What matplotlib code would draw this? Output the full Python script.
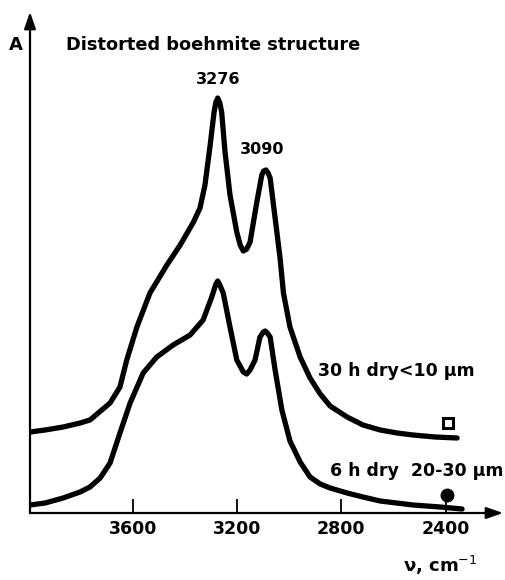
import matplotlib
matplotlib.use("Agg")
import matplotlib.pyplot as plt

# ---- data (wavenumber in cm^-1, absorbance in arbitrary units) ----
wn_a = [3994, 3936, 3867, 3802, 3764, 3687, 3649, 3623, 3584, 3534,
        3469, 3418, 3367, 3342, 3323, 3303, 3288, 3281, 3274, 3266,
        3259, 3246, 3227, 3201, 3188, 3176, 3163, 3150, 3124, 3105,
        3098, 3089, 3081, 3073, 3054, 3035, 3022, 2997, 2958, 2920,
        2881, 2843, 2778, 2717, 2651, 2586, 2525, 2441, 2356]
abs_a = [0.81, 0.83, 0.86, 0.90, 0.93, 1.10, 1.26, 1.53, 1.86, 2.20,
         2.48, 2.68, 2.91, 3.05, 3.28, 3.68, 4.01, 4.11, 4.15, 4.10,
         4.01, 3.61, 3.18, 2.81, 2.68, 2.62, 2.64, 2.71, 3.11, 3.38,
         3.42, 3.43, 3.40, 3.35, 2.95, 2.55, 2.20, 1.86, 1.56, 1.35,
         1.19, 1.07, 0.96, 0.88, 0.83, 0.80, 0.78, 0.76, 0.75]

wn_b = [3994, 3936, 3867, 3802, 3764, 3725, 3687, 3649, 3610, 3560,
        3508, 3445, 3380, 3330, 3297, 3281, 3274, 3266, 3253, 3227,
        3201, 3176, 3163, 3150, 3131, 3112, 3099, 3092, 3084, 3073,
        3054, 3028, 2997, 2958, 2920, 2881, 2843, 2778, 2717, 2651,
        2525, 2421, 2337]
abs_b = [0.08, 0.10, 0.15, 0.21, 0.26, 0.35, 0.50, 0.80, 1.10, 1.40,
         1.56, 1.68, 1.78, 1.93, 2.16, 2.29, 2.32, 2.28, 2.20, 1.86,
         1.53, 1.41, 1.39, 1.43, 1.53, 1.76, 1.81, 1.82, 1.80, 1.76,
         1.43, 1.03, 0.72, 0.51, 0.36, 0.29, 0.25, 0.20, 0.16, 0.12,
         0.08, 0.06, 0.04]

xticks = [3600, 3200, 2800, 2400]
xtick_labels = ["3600", "3200", "2800", "2400"]

peak_labels = ["3276", "3090"]
peak_label_pos = [(3273, 4.33), (3104, 3.63)]

curve_labels = ["30 h dry<10 \u03bcm", "6 h dry  20-30 \u03bcm"]
curve_label_pos = [(2889, 1.42), (2843, 0.42)]

tag_pos_a = (2391, 0.90)
tag_pos_b = (2395, 0.18)

title = "Distorted boehmite structure"
ylabel = "A"
xlabel = "\u03bd, cm$^{-1}$"

# ---- figure ----
W, H = 505, 580
fig = plt.figure(figsize=(W / 100, H / 100), dpi=100)
ax_left, ax_right, ax_bottom, ax_top = 30, 503, 513, 12
ax = fig.add_axes([ax_left / W, (H - ax_bottom) / H,
                   (ax_right - ax_left) / W, (ax_bottom - ax_top) / H])
ax.set_xlim(3994, 2180)
ax.set_ylim(0, 5.01)
for s in ax.spines.values():
    s.set_visible(False)

lw = 3.8
for wn, ab in [(wn_a, abs_a), (wn_b, abs_b)]:
    ax.plot(wn, ab, color="black", lw=lw, solid_joinstyle="round",
            solid_capstyle="round")

# axes with arrows
arrow = dict(arrowstyle="-|>,head_length=1.0,head_width=0.35",
             color="black", lw=1.6, shrinkA=0, shrinkB=0)
ax.annotate("", xy=(1.0, 0), xytext=(0, 0), xycoords="axes fraction", arrowprops=arrow)
ax.annotate("", xy=(0, 1.0), xytext=(0, 0), xycoords="axes fraction", arrowprops=arrow)

ax.set_yticks([])
ax.set_xticks(xticks)
ax.set_xticklabels(xtick_labels, fontweight="bold")
ax.tick_params(axis="x", direction="in", length=10, width=1.3, pad=5,
               labelsize=12.5, colors="black")

fw = "bold"
ax.text(3856, 4.68, title, fontsize=12.8, ha="left", va="center", fontweight=fw)
ax.text(4047, 4.68, ylabel, fontsize=13, ha="center", va="center", fontweight=fw,
        clip_on=False)
for t, (x, y) in zip(peak_labels, peak_label_pos):
    ax.text(x, y, t, fontsize=11.5, ha="center", va="center", fontweight=fw)
for t, (x, y) in zip(curve_labels, curve_label_pos):
    ax.text(x, y, t, fontsize=12.5, ha="left", va="center", fontweight=fw)
ax.text(2421, -0.52, xlabel, fontsize=13, ha="center", va="center", fontweight=fw,
        clip_on=False)

ax.plot([tag_pos_a[0]], [tag_pos_a[1]], marker="s", ms=7, mfc="white", mec="black",
        mew=2.2, clip_on=False)
ax.plot([tag_pos_b[0]], [tag_pos_b[1]], marker="o", ms=9, color="black", clip_on=False)

fig.savefig("out.png", dpi=100)
